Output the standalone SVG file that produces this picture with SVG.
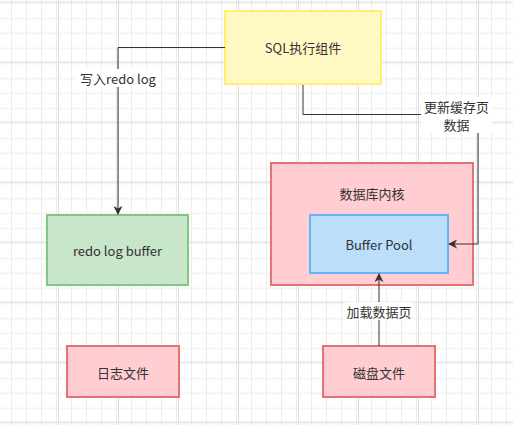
<svg xmlns="http://www.w3.org/2000/svg" width="513" height="425" viewBox="0 0 513 425">
<style>
text{font-family:"Noto Sans CJK SC","Liberation Sans",sans-serif;font-size:13px;fill:#333;text-anchor:middle;dominant-baseline:central}
.edge{fill:none;stroke:#333;stroke-width:1}
.lbl{fill:#fff}
</style>
<defs>
<pattern id="minor" x="-2" y="1.5" width="15" height="15" patternUnits="userSpaceOnUse">
<path d="M0.5 0V15M0 0.5H15" stroke="#ececec" stroke-width="1" fill="none"/>
</pattern>
<pattern id="major" x="-2" y="1.5" width="60" height="60" patternUnits="userSpaceOnUse">
<rect width="60" height="60" fill="url(#minor)"/>
<path d="M0.5 0V60M0 0.5H60" stroke="#dedede" stroke-width="1" fill="none"/>
</pattern>
<marker id="arr" viewBox="0 0 10 10" refX="9" refY="5" markerWidth="9" markerHeight="9" markerUnits="userSpaceOnUse" orient="auto">
<path d="M0 0L10 5L0 10L3 5Z" fill="#333"/>
</marker>
</defs>
<rect width="513" height="425" fill="#fff"/>
<rect width="513" height="425" fill="url(#major)"/>

<g id="n-sql">
<rect x="225" y="11" width="156" height="73" fill="#fff9c4" stroke="#ffee70" stroke-width="2"/>
<text x="303" y="47.5">SQL执行组件</text>
</g>
<g id="n-redo">
<rect x="47" y="215" width="141" height="70" fill="#c8e6c9" stroke="#81c784" stroke-width="2"/>
<text x="117.5" y="250">redo log buffer</text>
</g>
<g id="n-kernel">
<rect x="271" y="163" width="202" height="122" fill="#ffcdd2" stroke="#e57373" stroke-width="2"/>
<text x="372" y="193">数据库内核</text>
</g>
<g id="n-bufpool">
<rect x="310" y="215" width="138" height="58" fill="#bbdefb" stroke="#64b5f6" stroke-width="2"/>
<text x="379" y="244">Buffer Pool</text>
</g>
<g id="n-logfile">
<rect x="67" y="346" width="112" height="51" fill="#ffcdd2" stroke="#e57373" stroke-width="2"/>
<text x="123" y="372">日志文件</text>
</g>
<g id="n-disk">
<rect x="323" y="346" width="112" height="51" fill="#ffcdd2" stroke="#e57373" stroke-width="2"/>
<text x="379" y="372">磁盘文件</text>
</g>

<g id="connectors">
<path class="edge" d="M225 47.5H118V214" marker-end="url(#arr)"/>
<rect class="lbl" x="75" y="69" width="86" height="18"/>
<text x="118" y="78">写入redo log</text>
<path class="edge" d="M303 85V114.5H478V244H449" marker-end="url(#arr)"/>
<rect class="lbl" x="421" y="97" width="71" height="36"/>
<text x="456.5" y="106">更新缓存页</text>
<text x="456.5" y="124">数据</text>
<path class="edge" d="M379 346V274" marker-end="url(#arr)"/>
<rect class="lbl" x="345" y="302" width="68" height="18"/>
<text x="379" y="311">加载数据页</text>
</g>
</svg>
